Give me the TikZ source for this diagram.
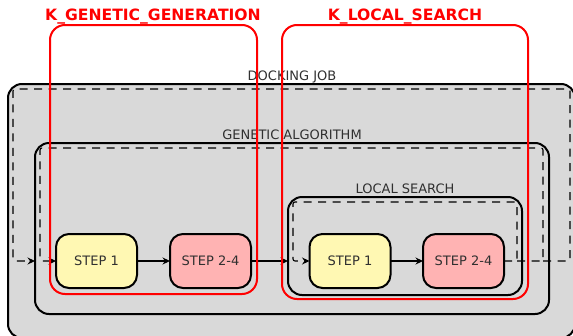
\documentclass[tikz,border=0pt]{standalone}
\usepackage{fontspec}
\setmainfont{DejaVu Sans}
\usetikzlibrary{arrows.meta}

\definecolor{panel}{HTML}{D9D9D9}
\definecolor{stepyellow}{HTML}{FFF8B3}
\definecolor{steppink}{HTML}{FFB3B3}
\definecolor{inktext}{HTML}{303030}
\definecolor{kernelred}{HTML}{FF0000}

\begin{document}
\begin{tikzpicture}[x=1pt,y=-1pt,
  container/.style={draw=black, line width=2pt, rounded corners=14pt, fill=panel,
    anchor=north west, inner sep=0pt, outer sep=0pt},
  kernel/.style={draw=kernelred, line width=2pt, rounded corners=15pt,
    anchor=north west, inner sep=0pt, outer sep=0pt},
  stepbox/.style={draw=black, line width=2pt, rounded corners=13pt,
    minimum width=81pt, minimum height=54pt, inner sep=0pt, outer sep=0pt,
    font=\fontsize{13}{15}\selectfont, text=inktext},
  boxlabel/.style={anchor=base, inner sep=0pt, font=\fontsize{13}{15}\selectfont, text=inktext},
  kerneltitle/.style={anchor=base, inner sep=0pt, font=\bfseries\fontsize{15.6}{18}\selectfont, text=kernelred},
  loop/.style={line width=1.1pt, dash pattern=on 8pt off 6.5pt, rounded corners=2pt},
  flow/.style={-{Stealth[length=7.5pt,width=7pt,inset=2.5pt]}, line width=1.1pt},
]
\useasboundingbox (0,0) rectangle (573,335);
\clip (0,0) rectangle (573,335);

% nested containers
\node[container, minimum width=567pt, minimum height=254pt] (job) at (8,84) {};
\node[container, minimum width=514pt, minimum height=171pt] (ga) at (35,143) {};
\node[container, minimum width=234pt, minimum height=98pt] (ls) at (288,197) {};

% container labels
\node[boxlabel] (joblabel) at (292,80.5) {DOCKING JOB};
\node[boxlabel] (galabel) at (292,139.3) {GENETIC ALGORITHM};
\node[boxlabel] (lslabel) at (405,193.3) {LOCAL SEARCH};

% steps
\node[stepbox, fill=stepyellow] (gs1) at (96.5,261) {STEP 1};
\node[stepbox, fill=steppink] (gs2) at (210.5,261) {STEP 2-4};
\node[stepbox, fill=stepyellow] (ls1) at (350,261) {STEP 1};
\node[stepbox, fill=steppink] (ls2) at (463.5,261) {STEP 2-4};

% loop corners
\coordinate (lsout) at (517,261);
\coordinate (lstr) at (517,202);
\coordinate (lstl) at (293,202);
\coordinate (lsin) at (293,261);
\coordinate (gaout) at (543,261);
\coordinate (gatr) at (543,148);
\coordinate (gatl) at (40,148);
\coordinate (gain) at (40,261);
\coordinate (jobout) at (570,261);
\coordinate (jobtr) at (570,89);
\coordinate (jobtl) at (13,89);
\coordinate (jobin) at (13,261);

% forward flow
\draw[flow] (gs1.east) -- (gs2.west);
\draw[flow] (gs2.east) -- (ls.west |- gs2.east);
\draw[flow] (ls1.east) -- (ls2.west);

% iteration loops
\draw[loop, flow] (ls2.east) -- (lsout) -- (lstr) -- (lstl) -- (lsin) -- (ls1.west);
\draw[loop, flow] (lsout) -- (gaout) -- (gatr) -- (gatl) -- (gain) -- (gs1.west);
\draw[loop, flow] (gaout) -- (jobout) -- (jobtr) -- (jobtl) -- (jobin) -- (ga.west |- jobin);

% kernels
\node[kernel, minimum width=207pt, minimum height=269pt] (kgen) at (50,25) {};
\node[kernel, minimum width=246pt, minimum height=274pt] (kls) at (282,25) {};
\node[kerneltitle] (kgentitle) at (153,20.7) {K\_GENETIC\_GENERATION};
\node[kerneltitle] (klstitle) at (405,20.7) {K\_LOCAL\_SEARCH};
\end{tikzpicture}
\end{document}
